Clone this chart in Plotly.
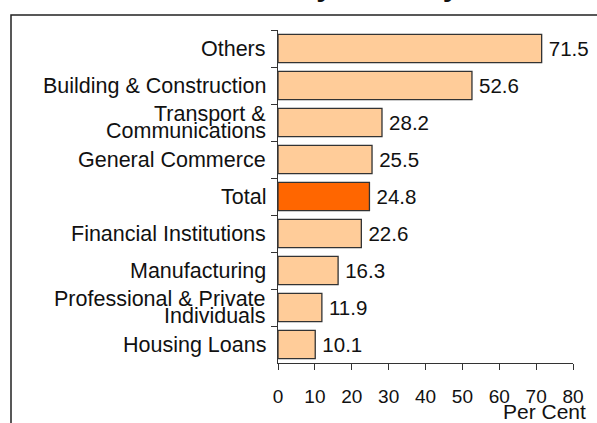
import plotly.graph_objects as go

categories = ["Others", "Building & Construction", "Transport & Communications",
              "General Commerce", "Total", "Financial Institutions", "Manufacturing",
              "Professional & Private Individuals", "Housing Loans"]
label_lines = [["Others"], ["Building & Construction"], ["Transport &", "Communications"],
               ["General Commerce"], ["Total"], ["Financial Institutions"], ["Manufacturing"],
               ["Professional & Private", "Individuals"], ["Housing Loans"]]
values = [71.5, 52.6, 28.2, 25.5, 24.8, 22.6, 16.3, 11.9, 10.1]
x_ticks = [0, 10, 20, 30, 40, 50, 60, 70, 80]
title_text = "NPL Ratios by Industry"
x_title = "Per Cent"

LIGHT = "#FFCC99"
DARK = "#FF6600"
colors = [DARK if c == "Total" else LIGHT for c in categories]
FONT = "Liberation Sans, Arial, sans-serif"

W, H = 597, 423
L, R, T, B = 278, 24, 30, 60
pw, ph = W - L - R, H - T - B

def px_x(px):
    return (px - L) / pw

def px_y(py):
    return (H - B - py) / ph

fig = go.Figure(go.Bar(
    x=values, y=categories, orientation="h",
    marker=dict(color=colors, line=dict(color="#333333", width=1.3)),
    text=["\u2009" + f"{v:.1f}" for v in values], textposition="outside",
    textfont=dict(size=20.5, color="#111111", family=FONT),
    cliponaxis=False, hoverinfo="skip",
))

annotations = []
for cat, lines in zip(categories, label_lines):
    n = len(lines)
    for i, ln in enumerate(lines):
        shift = 0 if n == 1 else (8.5 if i == 0 else -8.5)
        annotations.append(dict(
            x=0, xref="paper", y=cat, yref="y", text=ln, showarrow=False,
            xanchor="right", yanchor="middle", xshift=-10, yshift=shift,
            font=dict(size=21.5, color="#111111", family=FONT),
        ))
annotations.append(dict(
    x=px_x(588), xref="paper", y=px_y(412), yref="paper", text=x_title,
    showarrow=False, xanchor="right", yanchor="middle",
    font=dict(size=21, color="#111111", family=FONT),
))
annotations.append(dict(
    x=px_x(295), xref="paper", y=px_y(4), yref="paper", text=f"<b>{title_text}</b>",
    showarrow=False, xanchor="center", yanchor="bottom",
    font=dict(size=30, color="#111111", family=FONT),
))

fig.update_layout(
    width=W, height=H,
    margin=dict(l=L, r=R, t=T, b=B, pad=0),
    paper_bgcolor="white", plot_bgcolor="white",
    bargap=0.235, showlegend=False,
    font=dict(family=FONT, size=20, color="#111111"),
    annotations=annotations,
    shapes=[dict(type="rect", xref="paper", yref="paper",
                 x0=px_x(11), y0=px_y(440), x1=px_x(620), y1=px_y(15),
                 line=dict(color="#222222", width=1.5), fillcolor="rgba(0,0,0,0)",
                 layer="below")],
    xaxis=dict(range=[0, 80], tickvals=x_ticks, ticks="outside", ticklen=6,
               tickcolor="#333333", showline=True, linecolor="#333333", linewidth=1.3,
               showgrid=False, zeroline=False, ticklabelstandoff=10,
               tickfont=dict(size=19, color="#111111", family=FONT)),
    yaxis=dict(autorange="reversed", ticks="outside", tickson="boundaries", ticklen=6,
               tickcolor="#333333", showline=True, linecolor="#333333", linewidth=1.3,
               showgrid=False, showticklabels=False),
)

fig.write_html("out.html", config={"displayModeBar": False},
               post_script="document.body.style.margin='0';document.body.style.overflow='hidden';")
